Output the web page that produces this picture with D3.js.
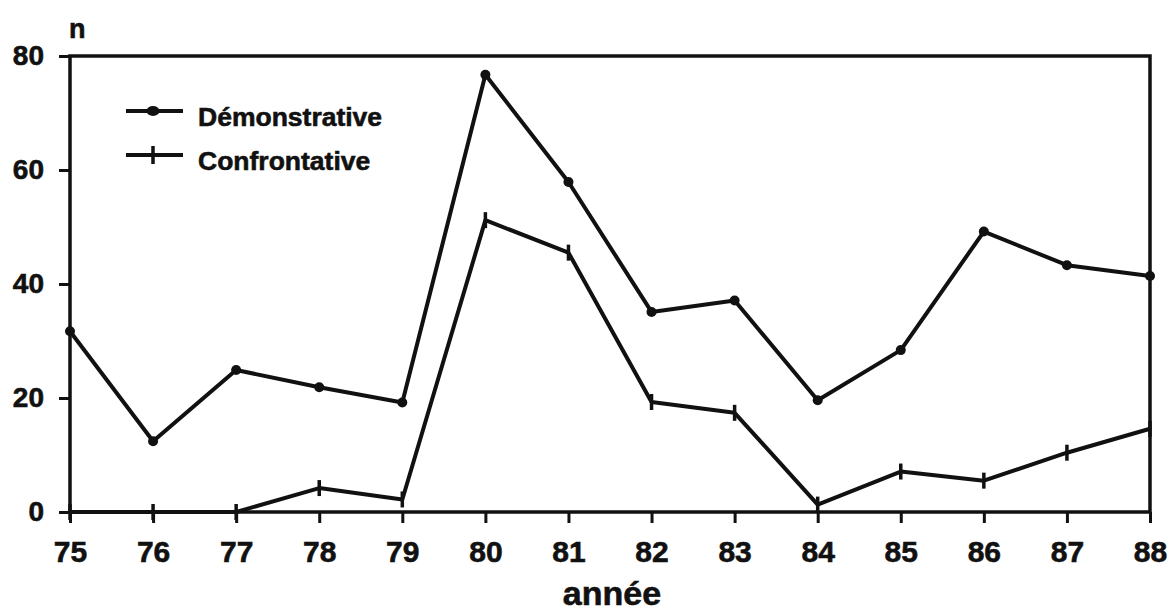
<!DOCTYPE html>
<html><head><meta charset="utf-8">
<script src="https://cdn.jsdelivr.net/npm/d3@7/dist/d3.min.js"></script>
<style>
html,body{margin:0;padding:0;background:#fff;}
svg text{font-family:"Liberation Sans",Arial,sans-serif;font-weight:bold;fill:#111;stroke:#111;stroke-width:0.6px;}
</style></head>
<body>
<svg id="chart" width="1170" height="614"></svg>
<script>
const years = ["75","76","77","78","79","80","81","82","83","84","85","86","87","88"];
const demonstrative = [31.7,12.4,24.9,21.9,19.2,76.7,57.9,35.1,37.1,19.6,28.4,49.2,43.3,41.4];
const confrontative = [0,0,0,4.2,2.2,51.2,45.5,19.3,17.4,1.3,7.1,5.5,10.4,14.6];
const yTicks = [0,20,40,60,80];
const seriesNames = ["Démonstrative","Confrontative"];

const svg = d3.select("#chart");
const L = 70, R = 1150, T = 56, B = 512;
const x = d3.scalePoint().domain(years).range([L, R]);
const y = d3.scaleLinear().domain([0, 80]).range([B, T]);
const ink = "#111";

// frame
svg.append("rect").attr("x", L).attr("y", T).attr("width", R - L).attr("height", B - T)
  .attr("fill", "none").attr("stroke", ink).attr("stroke-width", 3.5);

// y axis
const yAxis = svg.append("g").attr("transform", `translate(${L},0)`)
  .call(d3.axisLeft(y).tickValues(yTicks).tickSize(11).tickPadding(15));
yAxis.select(".domain").remove();
yAxis.selectAll("line").attr("stroke", ink).attr("stroke-width", 3);
yAxis.selectAll("text").attr("font-size", 28).attr("fill", ink)
  .attr("font-family", "Liberation Sans, Arial, sans-serif").attr("font-weight", "bold");

// x axis
const xAxis = svg.append("g").attr("transform", `translate(0,${B})`)
  .call(d3.axisBottom(x).tickSize(11).tickPadding(18));
xAxis.select(".domain").remove();
xAxis.selectAll("line").attr("stroke", ink).attr("stroke-width", 3);
xAxis.selectAll("text").attr("font-size", 30).attr("fill", ink)
  .attr("font-family", "Liberation Sans, Arial, sans-serif").attr("font-weight", "bold");

// axis titles
svg.append("text").attr("x", 69).attr("y", 38).attr("font-size", 27).text("n");
svg.append("text").attr("x", 612).attr("y", 605).attr("text-anchor", "middle").attr("font-size", 34).text("année");

const line = d3.line().x((d, i) => x(years[i])).y(d => y(d));

// lines
svg.append("path").datum(demonstrative).attr("d", line)
  .attr("fill", "none").attr("stroke", ink).attr("stroke-width", 4).attr("stroke-linejoin", "round");
svg.append("path").datum(confrontative).attr("d", line)
  .attr("fill", "none").attr("stroke", ink).attr("stroke-width", 4).attr("stroke-linejoin", "round");

// markers
svg.append("g").selectAll("circle").data(demonstrative).join("circle")
  .attr("cx", (d, i) => x(years[i])).attr("cy", d => y(d)).attr("r", 5).attr("fill", ink);
svg.append("g").selectAll("line").data(confrontative).join("line")
  .attr("x1", (d, i) => x(years[i])).attr("x2", (d, i) => x(years[i]))
  .attr("y1", d => y(d) - 8).attr("y2", d => y(d) + 8)
  .attr("stroke", ink).attr("stroke-width", 3.5);

// legend
const lg = svg.append("g");
const legY = [111, 155];
seriesNames.forEach((name, i) => {
  const yy = legY[i];
  lg.append("line").attr("x1", 126).attr("x2", 183).attr("y1", yy).attr("y2", yy)
    .attr("stroke", ink).attr("stroke-width", 4);
  if (i === 0) {
    lg.append("ellipse").attr("cx", 153).attr("cy", yy).attr("rx", 6.5).attr("ry", 5).attr("fill", ink);
  } else {
    lg.append("line").attr("x1", 153).attr("x2", 153).attr("y1", yy - 9).attr("y2", yy + 9)
      .attr("stroke", ink).attr("stroke-width", 3.5);
  }
  lg.append("text").attr("x", 198).attr("y", yy + 15).attr("font-size", 26.5).text(name);
});
</script>
</body></html>
